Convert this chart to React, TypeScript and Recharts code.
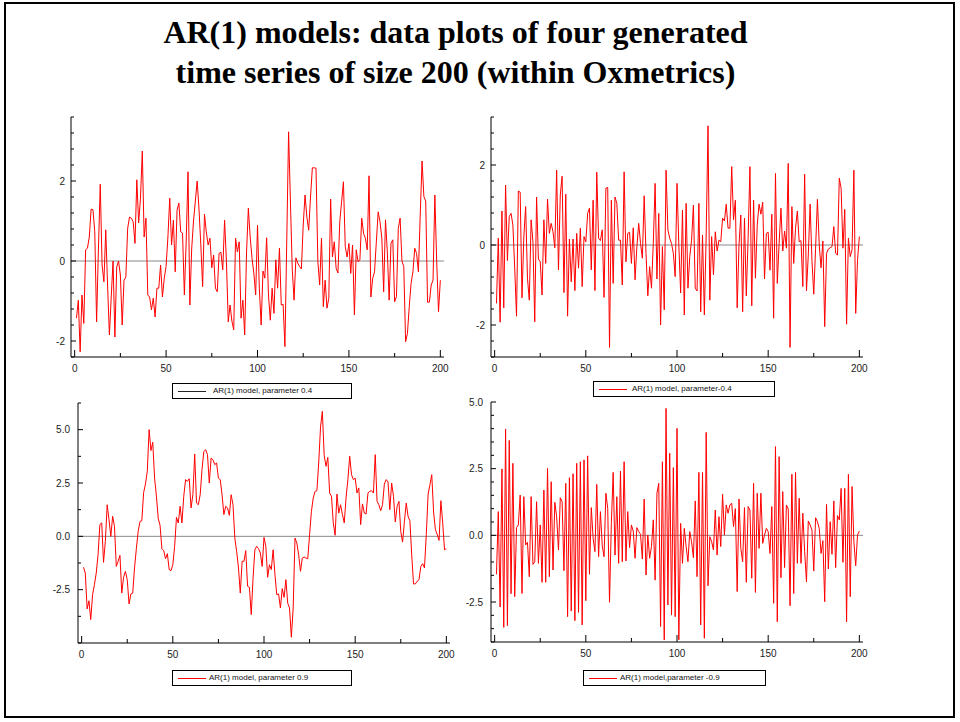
import { LineChart, Line, XAxis, YAxis, ReferenceLine } from "recharts";

// AR(1) parameter 0.4
const series04 = [
  -1.43, -0.98, -2.27, -0.85, -1.56, 0.28, 0.32, 0.6, 1.3, 1.28,
  0.73, -1.52, 0.3, 1.92, -0.1, -0.52, 0.78, -0.6, -1.85, -0.9,
  0.0, -1.9, -0.15, 0.0, -0.35, -1.6, -0.48, -0.4, 0.82, 1.1,
  1.07, 0.98, 0.44, 2.03, 0.95, 1.57, 2.75, 0.6, 1.07, -0.85,
  -0.9, -1.22, -0.93, -1.4, -0.68, -0.68, -0.1, -0.9, -0.43, -0.14,
  0.6, 1.57, 0.4, 1.02, -0.27, 1.27, 1.45, 0.73, 0.7, -0.85,
  0.5, 2.23, -1.1, 0.3, 1.0, 1.5, 2.0, 1.3, 0.4, -0.64,
  1.17, 0.73, 0.4, 0.57, -0.17, 0.15, -0.68, -0.77, 0.19, 0.22,
  -0.22, 1.02, 0.0, -1.52, -1.1, -1.5, -1.72, 0.57, 0.23, 0.48,
  -1.43, -0.98, -1.85, 0.2, 1.32, 0.6, 0.07, -0.3, -0.85, 0.9,
  -0.68, -1.6, -0.25, -0.43, 0.58, -0.85, -1.48, -0.68, -1.31, 0.03,
  -0.68, 0.32, -1.1, -1.08, -2.14, 0.5, 3.23, 1.5, -0.2, -0.98,
  0.08, -0.05, -0.14, -0.2, 0.9, 1.65, 1.1, 0.77, 1.6, 2.33,
  2.33, 2.32, 0.0, -0.6, 0.57, -1.14, -0.48, -1.18, -0.93, 1.55,
  0.1, 0.48, -0.18, -0.3, 0.98, 1.48, 1.98, 0.36, 0.1, 0.44,
  -0.31, 0.4, -1.35, 0.28, -0.02, 0.03, 1.07, 0.69, 0.57, 0.28,
  2.13, -0.9, -0.43, -0.27, 0.48, 1.23, 0.98, 0.57, -0.77, 1.03,
  0.23, -0.98, 0.44, 0.53, -1.02, -0.89, 0.82, 1.07, 0.0, -0.14,
  -2.02, -1.81, -1.14, -0.56, -0.27, 0.32, 0.19, -0.27, 1.15, 2.5,
  1.61, 1.5, -1.03, -1.03, -0.6, -0.48, 1.65, 0.0, -1.27, -0.48,
];

// AR(1) parameter -0.4
const seriesNeg04 = [
  -1.46, 0.17, -1.93, 0.85, -1.57, 1.5, -0.39, 0.71, 0.79, 0.5,
  -0.58, -1.78, 1.35, 1.32, -1.32, 0.2, 0.96, -0.83, -1.38, 0.63,
  0.08, -1.92, 1.2, -0.35, -0.42, -1.25, 0.63, -0.46, 1.15, 0.29,
  0.54, 0.33, -0.07, 1.87, -0.62, 1.25, 1.72, -1.19, 1.27, -1.78,
  0.15, -0.92, 0.15, -1.14, 0.29, -0.58, 0.42, -1.04, 0.21, 0.08,
  0.79, 0.92, -0.62, 1.12, -1.14, 1.82, 0.17, 0.11, 0.38, -1.31,
  1.42, 1.44, -2.56, 1.12, -0.96, 1.2, 1.04, 0.12, 0.12, -1.0,
  1.83, -0.42, 0.29, 0.32, -0.46, 0.43, -0.87, -0.04, 0.54, 0.04,
  -0.33, 1.23, -0.21, -1.27, -0.54, -1.08, 0.04, 1.54, -0.85, 0.79,
  -2.0, -0.04, -1.62, 1.87, 0.38, 0.17, 0.04, -0.21, -0.79, 1.54,
  0.0, -1.2, 0.87, -1.75, 1.04, -1.08, -0.29, 0.12, 1.0, -1.08,
  -1.15, 1.04, -1.67, 0.25, -1.75, 0.25, 2.98, -1.38, 0.21, -0.75,
  0.33, -0.15, 0.12, 0.08, 0.67, 0.6, 1.02, 0.42, 0.42, 1.96,
  0.63, 1.12, -1.57, 0.0, 0.75, -1.67, 0.67, -1.27, 0.17, 1.96,
  -1.52, 1.12, -0.83, 0.5, 1.02, 0.77, 1.07, -0.85, 0.29, 0.32,
  -0.63, 0.77, -1.83, 1.79, -0.96, 0.04, 0.92, -0.15, 0.35, -0.08,
  2.04, -2.56, 0.96, -0.46, 0.42, 0.85, 0.08, 0.11, -1.04, 1.77,
  -1.15, -0.25, 1.02, -0.38, -1.23, -0.08, 1.14, 0.0, -0.57, 0.1,
  -2.04, -0.21, -0.1, -0.07, -0.04, 0.46, -0.21, -0.25, 1.67, 1.42,
  -0.08, 0.89, -1.98, 0.17, -0.29, -0.12, 1.87, -1.71, -0.38, 0.21,
];

// AR(1) parameter 0.9
const series09 = [
  -1.45, -1.72, -3.4, -3.02, -3.9, -2.73, -2.27, -1.72, -0.86, 0.55,
  0.63, -1.22, -0.23, 1.48, 0.78, 0.0, 0.94, 0.47, -1.41, -1.17,
  -0.89, -2.66, -1.92, -1.64, -2.03, -3.17, -2.7, -2.66, -1.48, -0.58,
  0.23, 0.7, 0.73, 2.06, 2.45, 3.05, 5.0, 4.02, 4.41, 2.73,
  1.88, 0.83, 0.52, -0.58, -0.67, -1.05, -0.81, -1.56, -1.61, -1.33,
  -0.47, 0.89, 0.63, 1.41, 0.63, 1.88, 2.66, 2.58, 2.7, 1.33,
  1.95, 3.86, 1.56, 1.48, 1.95, 3.13, 3.98, 4.06, 3.83, 2.5,
  3.67, 3.59, 3.36, 3.44, 2.73, 2.66, 1.95, 1.02, 1.41, 1.33,
  0.98, 1.95, 1.48, -0.08, -0.7, -1.48, -2.66, -1.17, -1.17, -0.67,
  -2.34, -2.39, -3.67, -1.95, -0.63, -0.47, -0.58, -0.78, -1.41, -0.05,
  -0.47, -1.92, -1.33, -1.56, -0.63, -1.8, -2.73, -2.7, -3.36, -2.45,
  -2.86, -2.03, -3.13, -3.36, -4.73, -3.36, -0.08, -0.31, -0.86, -1.64,
  -1.02, -0.97, -1.02, -1.05, 0.08, 1.17, 1.8, 2.11, 2.14, 3.44,
  5.12, 5.86, 3.8, 3.28, 3.7, 2.03, 1.88, 0.63, 0.05, 1.98,
  1.09, 1.48, 1.02, 0.63, 1.8, 2.66, 3.75, 2.89, 2.66, 2.73,
  2.03, 2.27, 0.55, 1.52, 1.09, 1.05, 2.03, 2.11, 2.14, 2.03,
  3.83, 1.64, 1.48, 1.2, 1.48, 2.45, 2.66, 2.55, 1.25, 2.5,
  1.88, 0.67, 1.41, 1.64, 0.23, -0.27, 0.7, 1.56, 0.94, 0.73,
  -0.86, -2.23, -2.23, -2.11, -2.03, -1.41, -1.28, -1.48, 0.08, 1.98,
  2.42, 2.89, 1.14, 0.31, 0.08, -0.19, 1.67, 0.63, -0.63, -0.58,
];

// AR(1) parameter -0.9
const seriesNeg09 = [
  -1.46, 0.89, -2.69, 2.49, -3.45, 3.99, -3.39, 3.56, -2.19, 2.7,
  -2.3, 0.29, 0.39, 1.51, -2.18, 1.45, -0.36, -0.26, -1.55, 1.45,
  -1.09, -0.99, 1.26, -1.05, 0.39, -1.76, 1.7, -1.76, 2.51, -1.55,
  2.01, -1.3, 1.24, 0.7, -0.55, 1.41, 1.26, -1.33, 1.95, -3.05,
  2.16, -2.84, 2.31, -3.2, 2.7, -2.89, 2.76, -3.36, 2.83, -2.45,
  2.98, -1.46, 1.04, -0.11, -0.61, 1.91, -0.8, 0.89, -0.39, -0.8,
  1.58, 1.01, -2.51, 0.45, 2.36, -0.74, 1.45, -1.05, 2.41, -0.99,
  2.76, -0.96, 0.89, -0.46, 0.39, 0.16, -0.86, 0.29, 0.14, 0.04,
  -0.89, 1.36, -1.49, 0.01, -0.86, -0.42, 0.58, -1.68, 1.58, 1.95,
  -3.42, 2.76, -3.92, 4.76, -2.61, 3.08, -2.99, 2.54, -3.05, 4.01,
  -3.92, 0.45, -1.05, 0.26, -0.42, -0.99, 0.14, -0.24, -0.84, 1.29,
  -1.55, 2.36, -3.36, 2.36, -3.86, 3.86, -1.89, -0.05, -0.24, -0.55,
  0.95, -0.74, 0.7, -0.42, 1.54, 0.01, 1.14, 0.83, 1.14, 1.2,
  0.33, 1.0, -2.11, 1.36, -0.49, -0.99, 1.04, -1.76, 1.08, 0.95,
  -1.61, 1.95, -2.14, 1.58, -0.49, 1.58, -0.3, 0.01, 0.26, 0.14,
  -0.68, 1.08, -2.55, 3.33, -3.24, 2.95, -1.59, 1.64, -1.21, 1.14,
  0.99, -2.64, 2.29, -2.18, 2.36, -1.05, 1.39, -1.05, 0.83, -0.61,
  -1.74, 0.54, 0.39, 0.2, -1.34, 0.66, 0.51, 0.26, -0.68, -0.2,
  -2.49, 1.16, -1.26, 0.51, -0.71, 1.29, -1.21, 0.74, 0.58, 1.76,
  -1.01, 1.76, -3.24, 2.29, -2.3, 1.83, -0.24, -1.14, 0.01, 0.16,
];

const xTicks = [0, 25, 50, 75, 100, 125, 150, 175, 200];
const xLabels = [0, 50, 100, 150, 200];

const yTicksA = [-2.4, -2, -1.6, -1.2, -0.8, -0.4, 0, 0.4, 0.8, 1.2, 1.6, 2, 2.4, 2.8, 3.2, 3.6];
const yTicksB = [-2.8, -2.4, -2, -1.6, -1.2, -0.8, -0.4, 0, 0.4, 0.8, 1.2, 1.6, 2, 2.4, 2.8, 3.2];
const yTicksC = [-5, -3.75, -2.5, -1.25, 0, 1.25, 2.5, 3.75, 5, 6.25];
const yTicksD = [-4, -3.5, -3, -2.5, -2, -1.5, -1, -0.5, 0, 0.5, 1, 1.5, 2, 2.5, 3, 3.5, 4, 4.5, 5];
const yLabelsAB = [-2, 0, 2];
const yLabelsCD = [-2.5, 0, 2.5, 5];

const legendNames = [
  "AR(1) model, parameter 0.4",
  "AR(1) model, parameter-0.4",
  "AR(1) model, parameter 0.9",
  "AR(1) model,parameter -0.9",
];

const ML = 60;
const MT = 10;
const MR = 12;
const XH = 30;
const FONT = "'Liberation Sans', Arial, sans-serif";

function Panel({ values, left, top, plotW, plotH, yDomain, yTicks, yLabels, decimals, labelGap }) {
  const data = values.map((v, i) => ({ t: i + 1, v }));
  const axisY = MT + plotH;

  const xTick = (props) => {
    const { x, payload } = props;
    const major = xLabels.includes(payload.value);
    return (
      <g>
        <line x1={x} x2={x} y1={axisY} y2={axisY - (major ? 7 : 4)} stroke="#000" />
        {major && (
          <text x={x} y={axisY + 15} textAnchor="middle" fontSize={10} fontFamily={FONT} fill="#222">
            {payload.value}
          </text>
        )}
      </g>
    );
  };

  const yTick = (props) => {
    const { y, payload } = props;
    const major = yLabels.includes(payload.value);
    return (
      <g>
        <line x1={ML} x2={ML + (major ? 5 : 3)} y1={y} y2={y} stroke="#000" />
        {major && (
          <text x={ML - labelGap} y={y + 3.5} textAnchor="end" fontSize={10} fontFamily={FONT} fill="#222">
            {decimals ? payload.value.toFixed(1) : String(payload.value)}
          </text>
        )}
      </g>
    );
  };

  return (
    <div style={{ position: "absolute", left: left - ML, top: top - MT }}>
      <LineChart
        width={ML + plotW + MR}
        height={MT + plotH + XH}
        data={data}
        margin={{ top: MT, right: MR, bottom: 0, left: 0 }}
      >
        <XAxis
          dataKey="t"
          type="number"
          domain={[-2, 202]}
          ticks={xTicks}
          interval={0}
          height={XH}
          tickLine={false}
          axisLine={{ stroke: "#000" }}
          tick={xTick}
          allowDataOverflow
        />
        <YAxis
          type="number"
          domain={yDomain}
          ticks={yTicks}
          interval={0}
          width={ML}
          tickLine={false}
          axisLine={{ stroke: "#000" }}
          tick={yTick}
          allowDataOverflow
        />
        <ReferenceLine y={0} stroke="#888" strokeWidth={1} />
        <Line
          type="linear"
          dataKey="v"
          stroke="#ff0000"
          strokeWidth={1}
          dot={false}
          isAnimationActive={false}
        />
      </LineChart>
    </div>
  );
}

function LegendBox({ left, top, width, name, color, textLeft }) {
  return (
    <div
      style={{
        position: "absolute",
        left,
        top,
        width,
        height: 16,
        border: "1px solid #000",
        background: "#fff",
        boxSizing: "border-box",
        fontFamily: FONT,
        fontSize: 8,
      }}
    >
      <div style={{ position: "absolute", left: 5, top: 7, width: 28, height: 1, background: color }} />
      <div style={{ position: "absolute", left: textLeft, top: 2, whiteSpace: "nowrap", color: "#111" }}>{name}</div>
    </div>
  );
}

export default function App() {
  return (
    <div style={{ position: "absolute", left: 0, top: 0, width: 960, height: 722, background: "#fff", overflow: "hidden" }}>
      <div
        style={{
          position: "absolute",
          left: 4,
          top: 2,
          width: 951,
          height: 716,
          border: "2px solid #000",
          boxSizing: "border-box",
        }}
      />
      <div
        style={{
          position: "absolute",
          left: 0,
          top: 12,
          width: 911,
          textAlign: "center",
          fontFamily: "'Liberation Serif', 'Times New Roman', serif",
          fontWeight: "bold",
          fontSize: 32,
          lineHeight: "40px",
          color: "#000",
        }}
      >
        AR(1) models: data plots of four generated
        <br />
        time series of size 200 (within Oxmetrics)
      </div>

      <Panel values={series04} left={71} top={117} plotW={373} plotH={240} yDomain={[-2.4, 3.6]} yTicks={yTicksA} yLabels={yLabelsAB} decimals={false} labelGap={6} />
      <Panel values={seriesNeg04} left={491} top={117} plotW={372} plotH={240} yDomain={[-2.8, 3.2]} yTicks={yTicksB} yLabels={yLabelsAB} decimals={false} labelGap={6} />
      <Panel values={series09} left={78} top={403} plotW={372} plotH={240} yDomain={[-5, 6.25]} yTicks={yTicksC} yLabels={yLabelsCD} decimals={true} labelGap={8} />
      <Panel values={seriesNeg09} left={491} top={402} plotW={372} plotH={240} yDomain={[-4, 5]} yTicks={yTicksD} yLabels={yLabelsCD} decimals={true} labelGap={8} />

      <LegendBox left={172} top={383} width={180} name={legendNames[0]} color="#222" textLeft={40} />
      <LegendBox left={593} top={381} width={182} name={legendNames[1]} color="#ff0000" textLeft={38} />
      <LegendBox left={172} top={670} width={180} name={legendNames[2]} color="#ff0000" textLeft={36} />
      <LegendBox left={583} top={670} width={183} name={legendNames[3]} color="#ff0000" textLeft={36} />
    </div>
  );
}
